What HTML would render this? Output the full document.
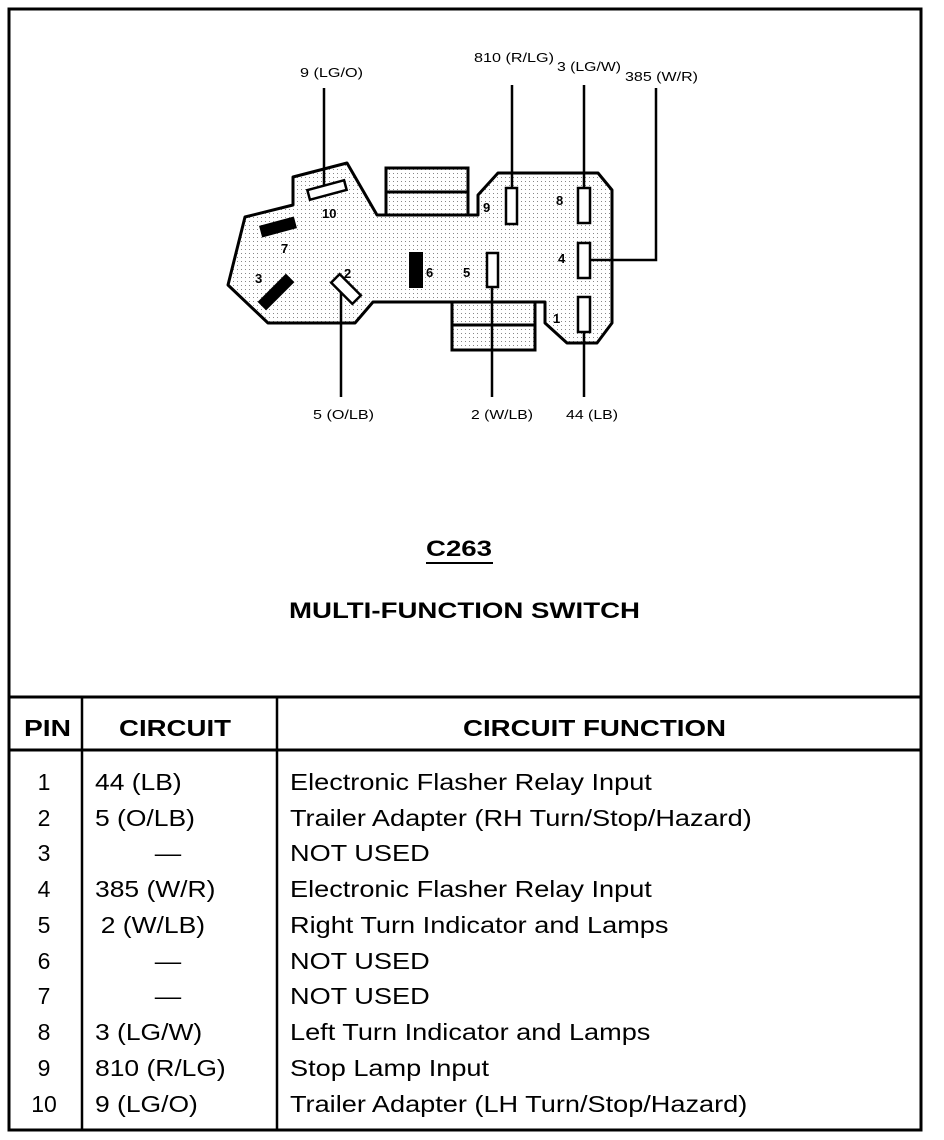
<!DOCTYPE html>
<html><head><meta charset="utf-8"><style>
html,body{margin:0;padding:0;background:#fff}
svg{display:block}
text{font-family:"Liberation Sans",sans-serif;fill:#000}
</style></head><body>
<svg width="944" height="1140" viewBox="0 0 944 1140" xmlns="http://www.w3.org/2000/svg">
<defs>
<pattern id="dots" width="4" height="4" patternUnits="userSpaceOnUse">
<rect width="4" height="4" fill="#fff"/><rect x="1" y="1" width="1" height="1" fill="#888"/>
</pattern>
</defs>
<rect x="9" y="9" width="912" height="1121" fill="none" stroke="#000" stroke-width="3"/>
<line x1="9" y1="697" x2="921" y2="697" stroke="#000" stroke-width="3"/>
<line x1="9" y1="750" x2="921" y2="750" stroke="#000" stroke-width="3"/>
<line x1="82" y1="697" x2="82" y2="1130" stroke="#000" stroke-width="2.5"/>
<line x1="277" y1="697" x2="277" y2="1130" stroke="#000" stroke-width="2.5"/>

<rect x="386" y="168" width="82" height="47" fill="url(#dots)" stroke="#000" stroke-width="3"/>
<line x1="386" y1="192" x2="468" y2="192" stroke="#000" stroke-width="3"/>
<rect x="452" y="302" width="83" height="48" fill="url(#dots)" stroke="#000" stroke-width="3"/>
<line x1="452" y1="325" x2="535" y2="325" stroke="#000" stroke-width="3"/>
<polygon points="228,285 245,217 293,205 293,177 347,163 377,215 478,215 478,195 498,173 598,173 612,190 612,323 597,343 567,343 545,323 545,302 373,302 355,323 268,323" fill="url(#dots)" stroke="#000" stroke-width="3" stroke-linejoin="round"/>

<g stroke="#000" stroke-width="2.5" fill="none">
<line x1="324" y1="88" x2="324" y2="188"/>
<line x1="512" y1="85" x2="512" y2="190"/>
<line x1="584" y1="85" x2="584" y2="190"/>
<polyline points="591,260 656,260 656,88"/>
<line x1="341" y1="292" x2="341" y2="397"/>
<line x1="492" y1="287" x2="492" y2="397"/>
<line x1="584" y1="332" x2="584" y2="397"/>
</g>

<rect x="308" y="185" width="38" height="10" fill="#fff" stroke="#000" stroke-width="2.5" transform="rotate(-15 327 190)"/>
<rect x="260" y="221" width="36" height="12" fill="#000" transform="rotate(-15 278 227)"/>
<rect x="256" y="286" width="40" height="12" fill="#000" transform="rotate(-45 276 292)"/>
<rect x="331" y="283" width="30" height="12" fill="#fff" stroke="#000" stroke-width="2.5" transform="rotate(45 346 289)"/>
<rect x="409" y="252" width="14" height="36" fill="#000"/>
<rect x="487" y="253" width="11" height="34" fill="#fff" stroke="#000" stroke-width="2.5"/>
<rect x="506" y="188" width="11" height="36" fill="#fff" stroke="#000" stroke-width="2.5"/>
<rect x="578" y="188" width="12" height="35" fill="#fff" stroke="#000" stroke-width="2.5"/>
<rect x="578" y="243" width="12" height="35" fill="#fff" stroke="#000" stroke-width="2.5"/>
<rect x="578" y="297" width="12" height="35" fill="#fff" stroke="#000" stroke-width="2.5"/>

<g font-size="13" font-weight="bold">
<text x="322" y="218">10</text>
<text x="281" y="253">7</text>
<text x="255" y="283">3</text>
<text x="344" y="278">2</text>
<text x="426" y="277">6</text>
<text x="463" y="277">5</text>
<text x="483" y="212">9</text>
<text x="556" y="205">8</text>
<text x="558" y="263">4</text>
<text x="553" y="323">1</text>
</g>
<g font-size="13" lengthAdjust="spacingAndGlyphs">
<text x="300" y="77" textLength="63" lengthAdjust="spacingAndGlyphs">9 (LG/O)</text>
<text x="474" y="62" textLength="80" lengthAdjust="spacingAndGlyphs">810 (R/LG)</text>
<text x="557" y="71" textLength="64" lengthAdjust="spacingAndGlyphs">3 (LG/W)</text>
<text x="625" y="81" textLength="73" lengthAdjust="spacingAndGlyphs">385 (W/R)</text>
<text x="313" y="419" textLength="61" lengthAdjust="spacingAndGlyphs">5 (O/LB)</text>
<text x="471" y="419" textLength="62" lengthAdjust="spacingAndGlyphs">2 (W/LB)</text>
<text x="566" y="419" textLength="52" lengthAdjust="spacingAndGlyphs">44 (LB)</text>
</g>

<text x="426" y="556" font-size="22" font-weight="bold" textLength="66" lengthAdjust="spacingAndGlyphs">C263</text>
<line x1="426" y1="563" x2="493" y2="563" stroke="#000" stroke-width="2"/>
<text x="289" y="618" font-size="22" font-weight="bold" textLength="351" lengthAdjust="spacingAndGlyphs">MULTI-FUNCTION SWITCH</text>

<g font-size="23" font-weight="bold">
<text x="24" y="736" textLength="47" lengthAdjust="spacingAndGlyphs">PIN</text>
<text x="119" y="736" textLength="112" lengthAdjust="spacingAndGlyphs">CIRCUIT</text>
<text x="463" y="736" textLength="263" lengthAdjust="spacingAndGlyphs">CIRCUIT FUNCTION</text>
</g>
<g font-size="23">
<g text-anchor="middle">
<text x="44" y="790">1</text><text x="44" y="826">2</text><text x="44" y="861">3</text>
<text x="44" y="897">4</text><text x="44" y="933">5</text><text x="44" y="969">6</text>
<text x="44" y="1004">7</text><text x="44" y="1040">8</text><text x="44" y="1076">9</text>
<text x="44" y="1112">10</text>
</g>
<g transform="translate(95 0) scale(1.15 1)">
<text x="0" y="790">44 (LB)</text>
<text x="0" y="826">5 (O/LB)</text>
<text x="52" y="861">—</text>
<text x="0" y="897">385 (W/R)</text>
<text x="5" y="933">2 (W/LB)</text>
<text x="52" y="969">—</text>
<text x="52" y="1004">—</text>
<text x="0" y="1040">3 (LG/W)</text>
<text x="0" y="1076">810 (R/LG)</text>
<text x="0" y="1112">9 (LG/O)</text>
</g>
<g transform="translate(290 0) scale(1.18 1)">
<text x="0" y="790">Electronic Flasher Relay Input</text>
<text x="0" y="826">Trailer Adapter (RH Turn/Stop/Hazard)</text>
<text x="0" y="861">NOT USED</text>
<text x="0" y="897">Electronic Flasher Relay Input</text>
<text x="0" y="933">Right Turn Indicator and Lamps</text>
<text x="0" y="969">NOT USED</text>
<text x="0" y="1004">NOT USED</text>
<text x="0" y="1040">Left Turn Indicator and Lamps</text>
<text x="0" y="1076">Stop Lamp Input</text>
<text x="0" y="1112">Trailer Adapter (LH Turn/Stop/Hazard)</text>
</g>
</g>
</svg>
</body></html>
